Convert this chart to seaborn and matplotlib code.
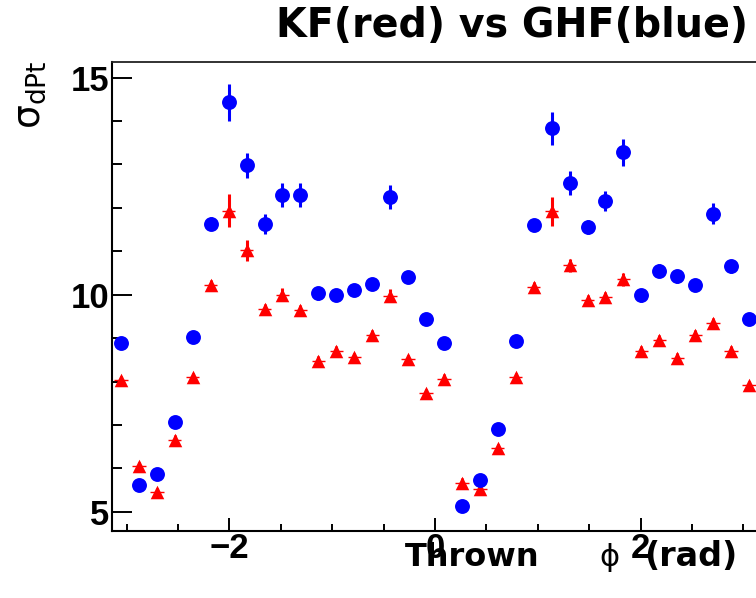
import numpy as np
import pandas as pd
import matplotlib
matplotlib.use("Agg")
import matplotlib.pyplot as plt
from matplotlib.ticker import MultipleLocator
import seaborn as sns

# ---- data ----
phi_centers = [-3.0543, -2.8798, -2.7053, -2.5307, -2.3562, -2.1817, -2.0071, -1.8326,
               -1.6581, -1.4835, -1.3090, -1.1345, -0.9599, -0.7854, -0.6109, -0.4363,
               -0.2618, -0.0873, 0.0873, 0.2618, 0.4363, 0.6109, 0.7854, 0.9599,
               1.1345, 1.3090, 1.4835, 1.6581, 1.8326, 2.0071, 2.1817, 2.3562,
               2.5307, 2.7053, 2.8798, 3.0543]
ghf_sigma = [8.88, 5.62, 5.87, 7.08, 9.03, 11.64, 14.43, 12.98, 11.64, 12.30, 12.30, 10.03,
             9.99, 10.10, 10.24, 12.25, 10.41, 9.44, 8.88, 5.14, 5.74, 6.90, 8.94, 11.60,
             13.83, 12.57, 11.56, 12.16, 13.28, 9.99, 10.55, 10.43, 10.22, 11.87, 10.66, 9.45]
ghf_err = [0.12, 0.10, 0.10, 0.10, 0.12, 0.14, 0.42, 0.29, 0.23, 0.28, 0.28, 0.15,
           0.13, 0.13, 0.13, 0.27, 0.14, 0.12, 0.12, 0.10, 0.10, 0.10, 0.12, 0.14,
           0.37, 0.27, 0.17, 0.23, 0.31, 0.15, 0.15, 0.15, 0.13, 0.25, 0.15, 0.14]
kf_sigma = [8.03, 6.06, 5.45, 6.66, 8.10, 10.23, 11.94, 11.02, 9.67, 10.00, 9.64, 8.48,
            8.71, 8.56, 9.08, 9.98, 8.51, 7.73, 8.07, 5.67, 5.53, 6.46, 8.10, 10.17,
            11.92, 10.68, 9.87, 9.95, 10.36, 8.71, 8.95, 8.55, 9.08, 9.34, 8.70, 7.92]
kf_err = [0.10, 0.10, 0.10, 0.10, 0.10, 0.12, 0.37, 0.25, 0.12, 0.15, 0.12, 0.10,
          0.10, 0.10, 0.12, 0.15, 0.10, 0.10, 0.10, 0.10, 0.10, 0.10, 0.10, 0.12,
          0.33, 0.15, 0.12, 0.12, 0.15, 0.12, 0.12, 0.12, 0.12, 0.12, 0.12, 0.10]
half_bin = 0.065

x_ticks = [-2, 0, 2]
y_ticks = [5, 10, 15]

title_text = "KF(red) vs GHF(blue)"

sns.set_style("white")
plt.rcParams["font.family"] = ["Liberation Sans", "DejaVu Sans"]
plt.rcParams["mathtext.fontset"] = "dejavusans"
for k in ["text.color", "axes.labelcolor", "xtick.color", "ytick.color"]:
    plt.rcParams[k] = "black"

df = pd.DataFrame({
    "phi": phi_centers * 2,
    "sigma": ghf_sigma + kf_sigma,
    "err": ghf_err + kf_err,
    "fit": ["GHF"] * len(phi_centers) + ["KF"] * len(phi_centers),
})

W, H = 756, 598
fig = plt.figure(figsize=(W / 100, H / 100), dpi=100)
ax = fig.add_axes([112 / W, 1 - 531 / H, (758 - 112) / W, (531 - 62) / H])

# error bars
for name, col in [("GHF", "#0000ff"), ("KF", "#ff0000")]:
    d = df[df["fit"] == name]
    ax.errorbar(d["phi"], d["sigma"], yerr=d["err"], fmt="none",
                ecolor=col, elinewidth=2.2, capsize=0, zorder=2)
    ax.errorbar(d["phi"], d["sigma"], xerr=half_bin, fmt="none",
                ecolor=col, elinewidth=1.0, capsize=0, zorder=2)

sns.scatterplot(data=df[df["fit"] == "KF"], x="phi", y="sigma", marker="^",
                color="#ff0000", s=95, linewidth=0, ax=ax, zorder=3, legend=False)
sns.scatterplot(data=df[df["fit"] == "GHF"], x="phi", y="sigma", marker="o",
                color="#0000ff", s=115, linewidth=0, ax=ax, zorder=4, legend=False)

ax.set_xlim(-np.pi, np.pi)
ax.set_ylim(4.56, 15.36)
ax.set_xticks(x_ticks)
ax.set_yticks(y_ticks)
ax.set_xticklabels([("\u2212" + str(abs(t))) if t < 0 else str(t) for t in x_ticks])
ax.set_yticklabels([str(t) for t in y_ticks])
ax.xaxis.set_minor_locator(MultipleLocator(0.5))
ax.yaxis.set_minor_locator(MultipleLocator(1))
ax.set_xlabel("")
ax.set_ylabel("")

ax.tick_params(axis="both", which="both", direction="in", color="black", width=1.4)
ax.tick_params(axis="y", which="major", length=14.5, pad=2)
ax.tick_params(axis="y", which="minor", length=7.2)
ax.tick_params(axis="x", which="major", length=9.4, pad=1)
ax.tick_params(axis="x", which="minor", length=5)
ax.tick_params(axis="both", which="both", top=False, right=False, left=True, bottom=True)
for lab in ax.get_xticklabels() + ax.get_yticklabels():
    lab.set_fontsize(25)
    lab.set_fontweight("bold")
    lab.set_color("black")
    lab.set_family(["Liberation Sans", "DejaVu Sans"])

for s in ["left", "bottom"]:
    ax.spines[s].set_linewidth(1.5)
    ax.spines[s].set_color("black")
ax.spines["top"].set_linewidth(1.3)
ax.spines["top"].set_color("#222222")
ax.spines["right"].set_visible(False)

# title
fig.text(748 / W, 1 - 37 / H, title_text, ha="right", va="baseline",
         fontsize=28.5, fontweight="bold", family="DejaVu Sans", color="black")

# x label (pieces, as in the ROOT label)
fig.text(405 / W, 1 - 566 / H, "Thrown", ha="left", va="baseline",
         fontsize=23, fontweight="bold", family="DejaVu Sans", color="black")
fig.text(609 / W, 1 - 566 / H, "\u03d5", ha="center", va="baseline",
         fontsize=22, family="DejaVu Sans", color="black")
fig.text(737 / W, 1 - 566 / H, "(rad)", ha="right", va="baseline",
         fontsize=24, fontweight="bold", family="DejaVu Sans", color="black")

# y label
fig.text(30 / W, 1 - 61 / H, "\u03c3$_{\\mathrm{dPt}}$", rotation=90,
         ha="center", va="top", fontsize=27, family=["DejaVu Sans"], color="black")

fig.savefig("out.png", dpi=100)
